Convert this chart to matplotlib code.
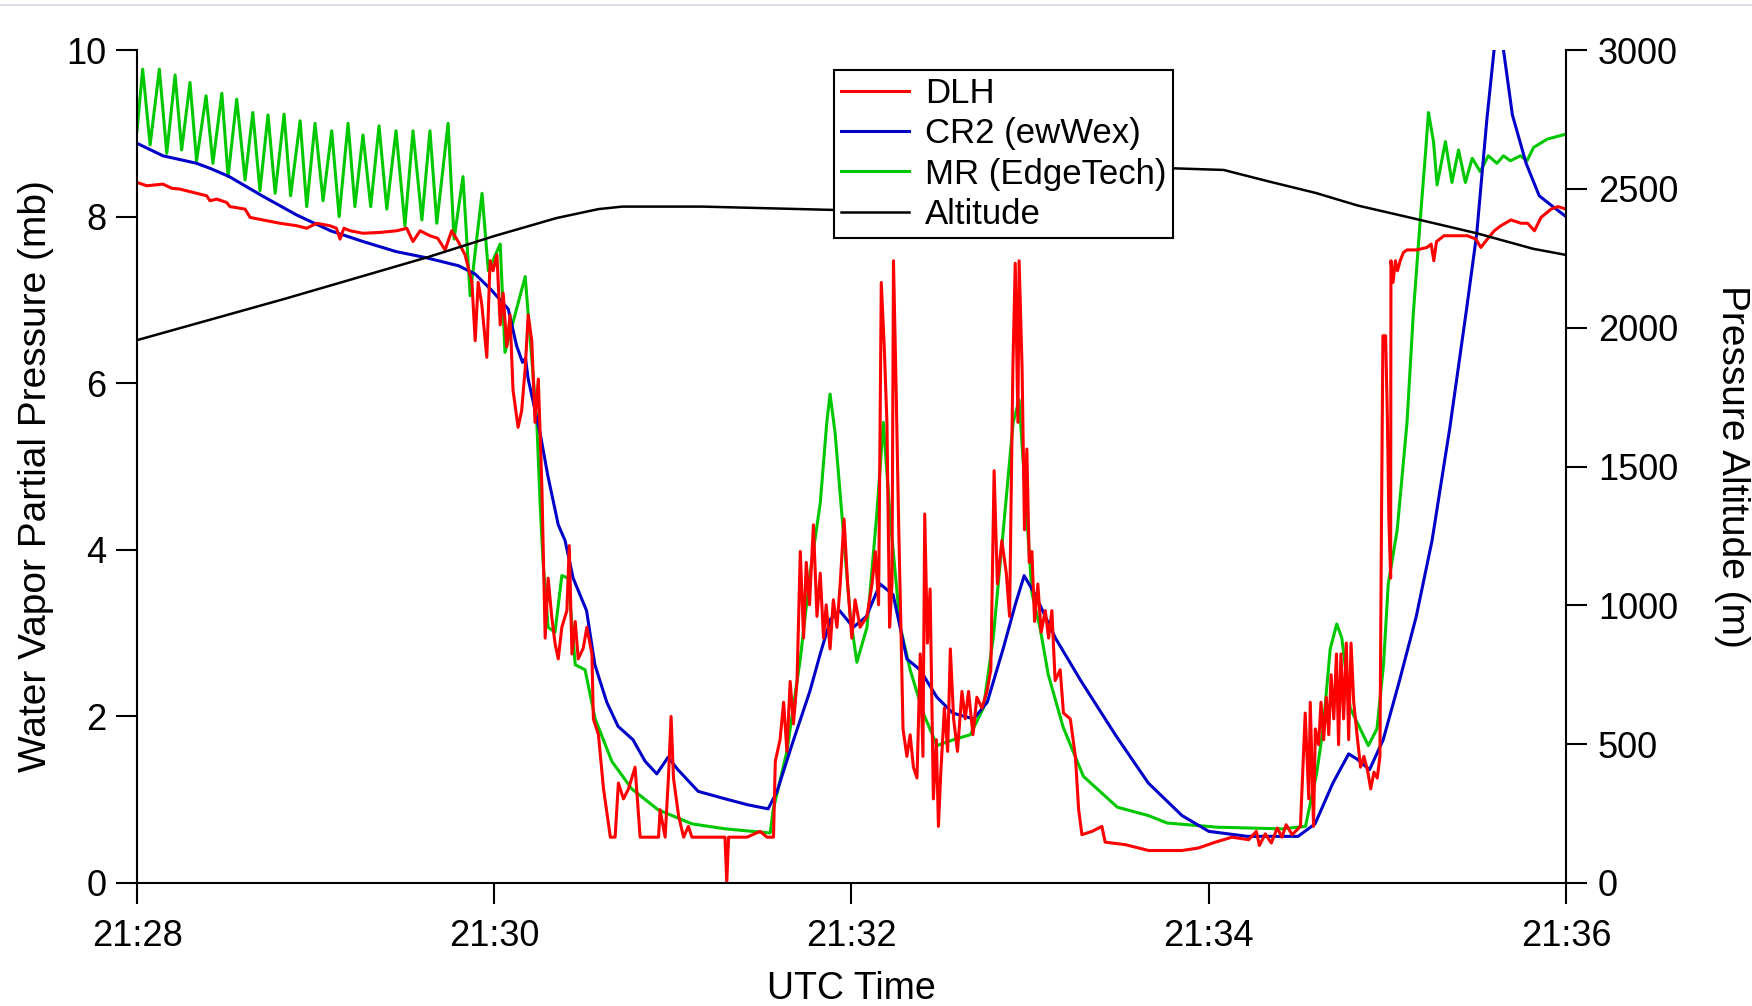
import matplotlib
matplotlib.use('Agg')
import matplotlib.pyplot as plt
from matplotlib.lines import Line2D

plt.rcParams['font.family'] = ['Liberation Sans', 'DejaVu Sans']

# time axis: seconds after 21:28:00 UTC
tick_pos = [0, 120, 240, 360, 480]
tick_labels = ['21:28', '21:30', '21:32', '21:34', '21:36']
left_ticks = [0, 2, 4, 6, 8, 10]
right_ticks = [0, 500, 1000, 1500, 2000, 2500, 3000]

# DLH (mb)
dlh_t = [0, 3.3, 8.7, 11.7, 14.4, 20, 23.4, 24.5, 26.8, 30.1, 31.2, 36.3, 38, 42.3, 48,
         53.7, 57, 60.4, 64.8, 67, 68.2, 69.5, 71.6, 75.9, 81.6, 87.3, 90.6, 92.7, 95.1,
         98.4, 101, 103.5, 105.7, 107.9, 110.2, 112.5, 113.6, 114.6, 115.8, 117.5, 118.6,
         119.6, 120.9, 122, 123, 124.2, 125.3, 126.3, 128, 129.2, 130.4, 131.4, 132.6,
         133.7, 134.8, 136, 137.1, 138.1, 139.3, 140.4, 141.5, 142.7, 144.4, 145.2, 146.1,
         147.2, 148.2, 149.9, 151.1, 152.8, 153.3, 155, 156.7, 159, 160.6, 161.7, 163.4,
         165.1, 167.3, 169, 175.2, 175.7, 177.4, 178.5, 179.4, 180.2, 181.9, 183.6, 185.2,
         186.4, 197.5, 198.1, 198.7, 204.9, 209.3, 211.6, 213.8, 214.4, 216, 217.2, 218.3,
         219.4, 220.5, 221.7, 222.8, 223.9, 224.8, 225.9, 227.2, 228.4, 229.5, 230.6,
         231.5, 232.8, 233.9, 235.1, 236.2, 237.5, 238.7, 240.1, 241.2, 242.9, 245.2,
         246.9, 248, 249.1, 250, 251, 251.9, 252.8, 253.6, 254.1, 255, 255.8, 256.6, 257.3,
         258.6, 259.7, 260.8, 262, 263.1, 264, 264.6, 265.5, 266.4, 267.5, 268.5, 269.2,
         270, 271.2, 272.3, 273.2, 274.3, 275.6, 277.1, 278.2, 279.3, 280.8, 282.1, 283.8,
         285.5, 286.8, 287.9, 289, 290.5, 292, 293.1, 294.2, 295, 295.9, 296.3, 297.3,
         298.1, 298.9, 299.7, 300.6, 301.5, 302.6, 303.7, 305.1, 306.2, 307.3, 308.4,
         310.1, 311.2, 313.5, 315.2, 316.3, 317.4, 320.8, 324.1, 325.2, 332, 339.8, 351,
         356.5, 362.2, 367.8, 373.4, 376, 377, 379, 381, 383, 384.6, 386, 388, 390.8, 392.4,
         393.6, 394.1, 395.2, 395.8, 396.9, 397.7, 398.6, 399.5, 400.3, 401.1, 402, 402.9,
         403.6, 404.4, 405.3, 406.2, 407, 407.8, 408.7, 409.8, 411, 412.1, 413.3, 414.4,
         415.5, 416.6, 417.5, 418, 418.5, 419.4, 420, 420.5, 421.1, 421.2, 421.9, 422.7,
         423.4, 424.3, 425.4, 426.6, 429.9, 433.3, 434.7, 435.6, 436.5, 439, 446.9, 449.7,
         451.4, 453.6, 455.9, 458.1, 461.5, 464.9, 467.1, 469.4, 471.6, 475, 477.3, 480]
dlh_v = [8.41, 8.37, 8.39, 8.34, 8.33, 8.28, 8.25, 8.19, 8.21, 8.17, 8.12, 8.09, 7.99, 7.96,
         7.92, 7.89, 7.86, 7.92, 7.89, 7.86, 7.73, 7.86, 7.83, 7.80, 7.81, 7.83, 7.86, 7.70,
         7.83, 7.77, 7.74, 7.60, 7.83, 7.70, 7.54, 7.21, 6.51, 7.21, 6.95, 6.31, 7.47, 7.35,
         7.54, 6.70, 7.08, 6.44, 6.82, 5.92, 5.47, 5.67, 6.18, 6.82, 6.51, 5.53, 6.05, 4.75,
         2.94, 3.66, 3.20, 2.88, 2.69, 3.07, 3.27, 4.05, 2.75, 3.14, 2.69, 2.82, 3.07, 2.75,
         1.97, 1.78, 1.13, 0.55, 0.55, 1.20, 1.01, 1.13, 1.39, 0.55, 0.55, 0.88, 0.55, 1.26,
         2.00, 1.26, 0.81, 0.55, 0.68, 0.55, 0.55, 0.0, 0.55, 0.55, 0.62, 0.55, 0.55, 1.46,
         1.72, 2.17, 1.58, 2.42, 1.91, 2.42, 3.98, 2.94, 3.85, 3.34, 4.30, 3.20, 3.72, 2.94,
         3.34, 2.81, 3.40, 3.07, 3.59, 4.37, 3.59, 2.94, 3.40, 3.07, 3.20, 3.59, 3.98, 3.34,
         7.21, 6.44, 5.53, 3.07, 3.59, 7.47, 5.92, 4.37, 3.07, 1.85, 1.52, 1.78, 1.39, 1.26,
         2.75, 1.52, 4.43, 2.88, 3.53, 1.01, 1.72, 0.68, 1.33, 2.10, 1.58, 2.81, 1.97, 1.58,
         2.30, 1.97, 2.30, 1.78, 2.23, 2.10, 2.30, 2.56, 4.95, 3.59, 4.11, 3.72, 3.20, 6.18,
         7.44, 5.53, 7.47, 6.18, 4.24, 5.21, 3.85, 3.98, 3.14, 3.59, 3.01, 3.27, 2.94, 3.27,
         2.43, 2.56, 2.04, 1.97, 1.52, 0.88, 0.58, 0.62, 0.68, 0.49, 0.46, 0.39, 0.39, 0.42,
         0.49, 0.55, 0.52, 0.62, 0.45, 0.59, 0.48, 0.66, 0.55, 0.70, 0.58, 0.68, 2.04, 1.01,
         2.17, 0.68, 1.85, 1.66, 2.17, 1.72, 2.23, 1.78, 2.50, 1.97, 2.75, 1.66, 2.75, 1.97,
         2.88, 1.72, 2.88, 2.17, 1.78, 1.39, 1.52, 1.36, 1.13, 1.33, 1.26, 1.52, 4.24, 6.57,
         6.57, 5.59, 4.37, 3.66, 7.47, 7.21, 7.47, 7.35, 7.47, 7.57, 7.60, 7.60, 7.63, 7.67,
         7.47, 7.70, 7.77, 7.77, 7.73, 7.63, 7.73, 7.83, 7.89, 7.96, 7.92, 7.92, 7.83, 7.99,
         8.09, 8.12, 8.09]

# CR2 (ewWex) (mb)
cr2_t = [0, 8.7, 20, 24.5, 31, 42, 53.6, 65, 76, 87, 96.7, 108, 113.6, 119, 124.7, 127.5,
         129.5, 130.5, 131.4, 135.4, 138, 141.5, 143.8, 146.5, 151, 153.8, 157.8, 161.6,
         166.6, 170.7, 174.6, 178.4, 181.7, 188.5, 197.6, 205, 212, 215, 220, 226, 229.5,
         233, 236, 240.6, 245, 249.6, 254, 258.6, 263, 268.7, 274, 281, 285.6, 291, 295,
         298, 301.7, 308.5, 317, 328.6, 339.7, 351, 360, 373, 390, 395.7, 401.7, 407,
         409.7, 414, 418.6, 424, 429.7, 435, 441, 446.6, 450, 453.4, 457, 459, 462, 466.6,
         471, 475.6, 480]
cr2_v = [8.88, 8.73, 8.64, 8.58, 8.48, 8.25, 8.02, 7.83, 7.70, 7.58, 7.51, 7.41, 7.31, 7.12,
         6.89, 6.45, 6.25, 6.30, 6.05, 5.40, 4.89, 4.30, 4.11, 3.66, 3.27, 2.62, 2.17, 1.88,
         1.72, 1.46, 1.31, 1.51, 1.36, 1.10, 1.01, 0.94, 0.89, 1.10, 1.66, 2.30, 2.75, 3.17,
         3.27, 3.07, 3.20, 3.59, 3.46, 2.69, 2.56, 2.23, 2.04, 1.97, 2.17, 2.82, 3.34, 3.69,
         3.46, 2.94, 2.43, 1.78, 1.20, 0.81, 0.62, 0.56, 0.56, 0.71, 1.20, 1.55, 1.49, 1.36,
         1.72, 2.42, 3.20, 4.11, 5.47, 6.89, 7.79, 9.16, 10.4, 10.0, 9.22, 8.64, 8.25, 8.12,
         8.00]

# MR (EdgeTech) (mb)
mr_t = [0, 1.9, 4.4, 7.5, 10, 12.8, 15, 17.8, 20, 23.2, 25.5, 28.5, 30.6, 33.5, 36.3, 38.9,
        41.3, 44, 46.4, 49.4, 51.6, 54.8, 57, 59.8, 62.5, 65.4, 67.9, 70.9, 73.2, 75.9,
        78.5, 81.3, 83.9, 87, 90, 92.7, 95.7, 98.4, 100.7, 104.5, 106.5, 109.5, 111.9,
        115.9, 118, 122, 123.6, 130.4, 134.3, 135.4, 136.4, 138.1, 140.4, 142.7, 144.8,
        147.2, 150.5, 153.9, 159.5, 166.2, 175, 186.4, 197.6, 212.7, 213.7, 218.3, 222.8,
        226.1, 229.5, 231.7, 232.8, 234.5, 237.2, 239.6, 241.8, 245.2, 248.5, 250.7, 253,
        256.4, 259.7, 264.1, 268.7, 274.2, 279.9, 284.3, 287.6, 291, 294.3, 296.3, 298.5,
        300.6, 303.4, 306.1, 311.1, 317.9, 329.3, 339.7, 346, 362.9, 384.6, 392.5, 396.3,
        398.4, 400.8, 403, 404.7, 407.5, 410.9, 413.6, 416.5, 418.7, 420.3, 423.3, 426.6,
        428.7, 431.1, 432.8, 433.8, 435.5, 436.7, 439.5, 441.7, 443.9, 446.2, 448.5, 451.2,
        453.9, 456.8, 459, 461.3, 464.7, 466.9, 469.1, 473.7, 480]
mr_v = [9.03, 9.77, 8.86, 9.77, 8.76, 9.70, 8.80, 9.61, 8.67, 9.45, 8.64, 9.48, 8.48, 9.41,
        8.44, 9.25, 8.31, 9.22, 8.28, 9.23, 8.25, 9.15, 8.12, 9.12, 8.19, 9.03, 8.00, 9.12,
        8.12, 8.98, 8.12, 9.09, 8.09, 9.03, 7.89, 9.03, 7.96, 9.03, 7.92, 9.12, 7.73, 8.48,
        7.05, 8.28, 7.35, 7.67, 6.37, 7.28, 5.53, 4.56, 3.85, 3.07, 3.01, 3.69, 3.66, 2.62,
        2.56, 1.97, 1.46, 1.13, 0.88, 0.71, 0.65, 0.60, 0.88, 1.58, 2.69, 3.72, 4.56, 5.53,
        5.87, 5.40, 4.24, 3.20, 2.65, 3.07, 4.43, 5.53, 4.37, 3.07, 2.56, 2.04, 1.65, 1.72,
        1.78, 2.10, 2.94, 4.24, 5.53, 5.80, 4.60, 3.48, 3.05, 2.50, 1.87, 1.28, 0.91, 0.81,
        0.72, 0.67, 0.65, 0.68, 1.33, 1.85, 2.81, 3.11, 2.94, 2.10, 1.85, 1.65, 1.85, 2.62,
        3.59, 4.24, 5.53, 6.83, 7.99, 8.76, 9.25, 8.90, 8.38, 8.90, 8.41, 8.80, 8.41, 8.70,
        8.54, 8.73, 8.64, 8.73, 8.67, 8.73, 8.67, 8.83, 8.93, 8.99]

# pressure altitude (m)
alt_t = [0, 50, 98, 120, 141, 155, 163, 190, 234, 260, 290, 320, 345, 365, 380, 396, 410,
         431, 450, 469, 480]
alt_m = [1955, 2105, 2255, 2330, 2395, 2427, 2436, 2436, 2424, 2445, 2510, 2560, 2575, 2568,
         2527, 2485, 2440, 2388, 2340, 2284, 2262]

fig = plt.figure(figsize=(17.52, 10.06), dpi=100)
ax = fig.add_axes([137 / 1752, 1 - 883 / 1006, 1429 / 1752, 833 / 1006])
ax2 = ax.twinx()

l_mr, = ax.plot(mr_t, mr_v, color='#00c800', lw=2.2)
l_cr2, = ax.plot(cr2_t, cr2_v, color='#0000c8', lw=2.2)
l_dlh, = ax.plot(dlh_t, dlh_v, color='#ff0000', lw=2.2)
l_alt, = ax2.plot(alt_t, alt_m, color='black', lw=1.8)

ax.set_xlim(0, 480)
ax.set_ylim(0, 10)
ax2.set_ylim(0, 3000)
ax.set_xticks(tick_pos, tick_labels)
ax.set_yticks(left_ticks)
ax2.set_yticks(right_ticks)

ax.spines['top'].set_visible(False)
ax.spines['right'].set_visible(False)
for s in ['top', 'left', 'bottom']:
    ax2.spines[s].set_visible(False)
for s in ['left', 'bottom']:
    ax.spines[s].set_linewidth(1.5)
ax2.spines['right'].set_linewidth(1.5)

ax.tick_params(axis='both', direction='out', length=15, width=1.5, labelsize=26)
ax.tick_params(axis='x', pad=11)
ax.tick_params(axis='y', pad=7)
ax2.tick_params(axis='y', direction='out', length=15, width=1.5, labelsize=26, pad=8)

ax.set_ylabel('Water Vapor Partial Pressure (mb)', fontsize=28, va='center')
ax.yaxis.set_label_coords(-0.071, 0.489)
ax2.set_ylabel('Pressure Altitude (m)', fontsize=28, rotation=-90, va='center')
ax2.yaxis.set_label_coords(1.116, 0.5)
ax.set_xlabel('UTC Time', fontsize=27, va='center')
ax.xaxis.set_label_coords(0.5, -0.127)

leg = ax2.legend([l_dlh, l_cr2, l_mr, l_alt],
                 ['DLH', 'CR2 (ewWex)', 'MR (EdgeTech)', 'Altitude'],
                 loc='upper left', bbox_to_anchor=(0.488, 0.976), borderaxespad=0,
                 fancybox=False, framealpha=1, edgecolor='black', fontsize=25,
                 handlelength=1.95, handletextpad=0.45, labelspacing=0.21, borderpad=0.2)
leg.get_frame().set_linewidth(1.5)

fig.add_artist(Line2D([0, 1], [1 - 5 / 1006, 1 - 5 / 1006], transform=fig.transFigure,
                      color='#dcdcea', lw=1.5))

fig.savefig('out.png', dpi=100)
